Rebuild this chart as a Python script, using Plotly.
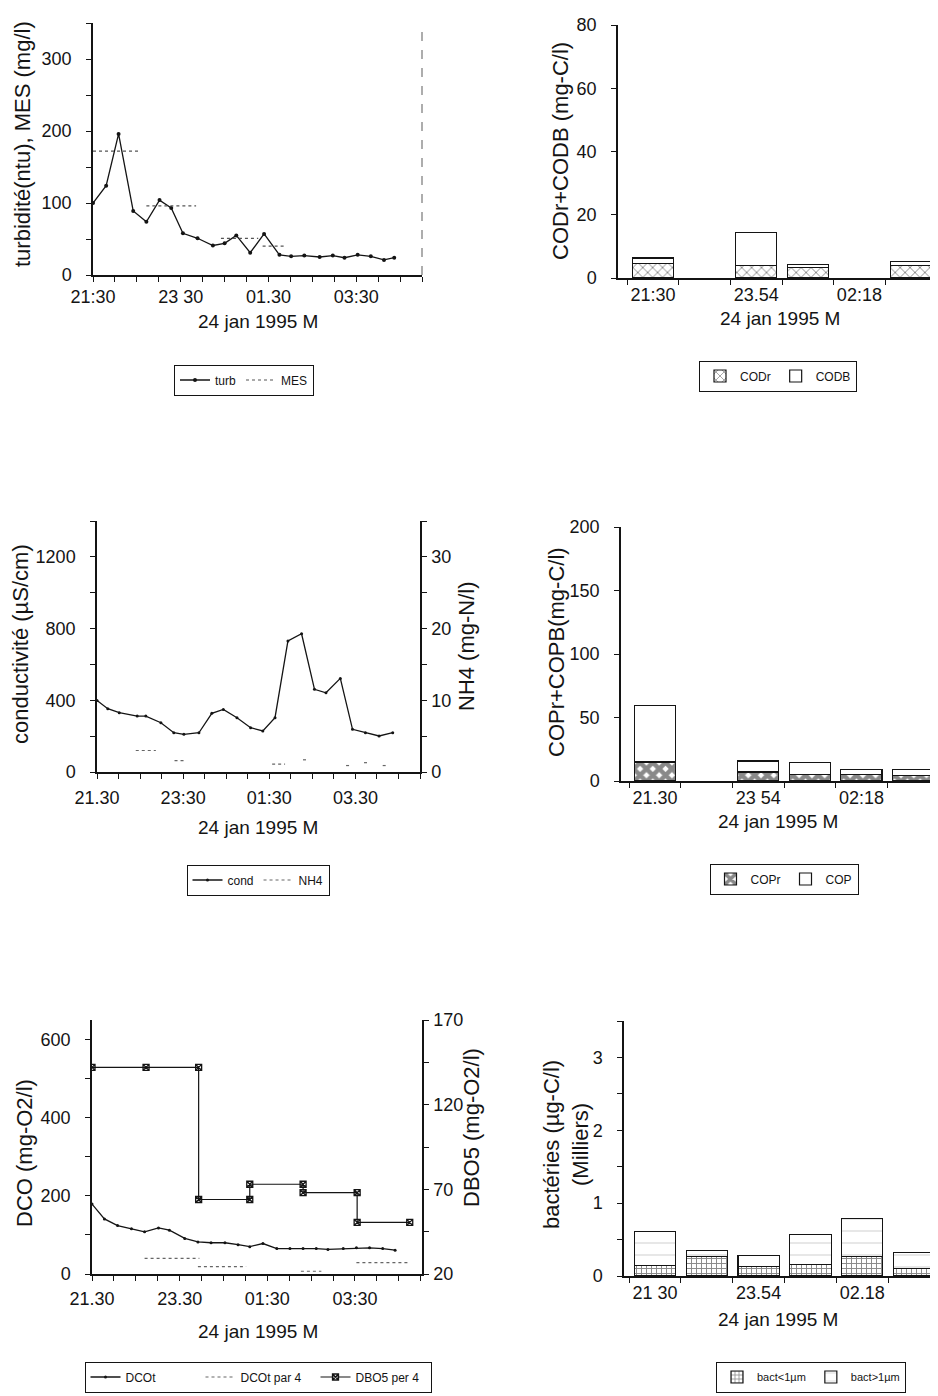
import plotly.graph_objects as go

W, H = 938, 1396
INK = "#141414"
TICKFONT = dict(family="Liberation Sans, Arial, sans-serif", size=18, color=INK)
TITLEFONT = dict(family="Liberation Sans, Arial, sans-serif", size=22, color=INK)
XTITLEFONT = dict(family="Liberation Sans, Arial, sans-serif", size=19, color=INK)
LEGFONT = dict(family="Liberation Sans, Arial, sans-serif", size=12, color=INK)

# ---------------- data ----------------
START = "21:30"
time_tick_clock = ["21:30", "23:30", "01:30", "03:30"]
p1_tick_text = ["21:30", "23 30", "01.30", "03:30"]
p3_tick_text = ["21.30", "23:30", "01:30", "03.30"]
p5_tick_text = ["21.30", "23.30", "01:30", "03:30"]

# panel 1 : turbidity / MES
turb_t = ["21:30", "21:48", "22:05", "22:25", "22:43", "23:01", "23:17", "23:33", "23:53", "00:14",
          "00:30", "00:46", "01:05", "01:24", "01:45", "02:01", "02:19", "02:40", "02:58", "03:14",
          "03:32", "03:50", "04:08", "04:22"]
turb_v = [100, 124, 196, 89, 74, 104, 93, 58, 51, 41, 44, 55, 31, 57, 28, 26, 27, 25, 27, 24, 28, 26, 21, 24]
mes_start = ["21:30", "22:43", "00:25", "01:22"]
mes_end = ["22:34", "23:51", "01:16", "01:52"]
mes_v = [172, 96, 51, 40]

# panel 3 : conductivity / NH4
cond_t = ["21:30", "21:45", "22:01", "22:26", "22:38", "22:59", "23:17", "23:31", "23:52", "00:10",
          "00:26", "00:45", "01:04", "01:21", "01:38", "01:56", "02:15", "02:33", "02:49", "03:09",
          "03:26", "03:44", "04:03", "04:22"]
cond_v = [399, 353, 331, 312, 312, 275, 219, 210, 219, 327, 349, 303, 247, 229, 303, 731, 771, 461,
          442, 522, 238, 219, 201, 219]
nh4_start = ["22:24", "23:18", "01:34", "02:17", "03:17", "03:42", "04:08"]
nh4_end = ["22:52", "23:32", "01:52", "02:24", "03:22", "03:48", "04:14"]
nh4_v = [3.0, 1.6, 1.1, 1.7, 0.9, 1.3, 0.9]

# panel 5 : DCO / DBO5
dco_t = ["21:30", "21:47", "22:05", "22:24", "22:42", "23:01", "23:16", "23:37", "23:55", "00:13",
         "00:32", "00:50", "01:06", "01:24", "01:43", "02:01", "02:19", "02:37", "02:53", "03:14",
         "03:32", "03:50", "04:08", "04:25"]
dco_v = [179, 141, 124, 116, 108, 118, 112, 91, 82, 80, 80, 75, 70, 78, 65, 65, 65, 65, 63, 65, 67, 67, 65, 61]
dco4_start = ["22:42", "23:55", "02:16", "03:32"]
dco4_end = ["23:57", "01:01", "02:44", "04:45"]
dco4_v = [40, 19, 7, 29]
dbo_t = ["21:30", "22:44", "23:56", "23:56", "01:06", "01:06", "02:19", "02:19", "03:33", "03:33", "04:45"]
dbo_v = [142, 142, 142, 64, 64, 73, 73, 68, 68, 50.5, 50.5]

# bar panels : six samples
samples = [0, 1, 2, 3, 4, 5]
bar_tick_pos = [0, 2, 4]
p2_tick_text = ["21:30", "23.54", "02:18"]
p4_tick_text = ["21.30", "23 54", "02:18"]
p6_tick_text = ["21 30", "23.54", "02.18"]
codr = [4.5, None, 3.9, 3.3, None, 4.0]
codb = [1.8, None, 10.5, 0.9, None, 1.2]
copr = [15.0, None, 7.1, 5.2, 5.2, 4.4]
cop = [44.5, None, 8.6, 9.2, 3.9, 4.7]
bact_lt1 = [0.14, 0.27, 0.13, 0.16, 0.27, 0.10]
bact_gt1 = [0.47, 0.08, 0.15, 0.41, 0.52, 0.22]


def hrs(c):
    h, m = map(int, c.split(":"))
    h0, m0 = map(int, START.split(":"))
    v = h + m / 60 - (h0 + m0 / 60)
    return v + 24 if v < 0 else v


def segs(starts, ends, vals):
    xs, ys = [], []
    for s, e, v in zip(starts, ends, vals):
        xs += [hrs(s), hrs(e), None]
        ys += [v, v, None]
    return xs, ys


def xd(a, b):
    return [a / W, b / W]


def yd(top, bottom):
    return [1 - bottom / H, 1 - top / H]


fig = go.Figure()

# ---- panel 1
fig.add_trace(go.Scatter(x=[hrs(t) for t in turb_t], y=turb_v, name="turb", mode="lines+markers",
                         line=dict(color=INK, width=1.3), marker=dict(size=4, color=INK),
                         xaxis="x", yaxis="y", legend="legend"))
mx, my = segs(mes_start, mes_end, mes_v)
fig.add_trace(go.Scatter(x=mx, y=my, name="MES", mode="lines", line=dict(color="#555", width=1.2, dash="dot"),
                         xaxis="x", yaxis="y", legend="legend"))

# ---- panel 2
fig.add_trace(go.Bar(x=samples, y=codr, name="CODr", width=0.8, xaxis="x2", yaxis="y2", legend="legend2",
                     marker=dict(color="white", line=dict(color=INK, width=1.2),
                                 pattern=dict(shape="x", size=7, solidity=0.25, fgcolor=INK, bgcolor="white"))))
fig.add_trace(go.Bar(x=samples, y=codb, name="CODB", width=0.8, xaxis="x2", yaxis="y2", legend="legend2",
                     marker=dict(color="white", line=dict(color=INK, width=1.2))))

# ---- panel 3
fig.add_trace(go.Scatter(x=[hrs(t) for t in cond_t], y=cond_v, name="cond", mode="lines+markers",
                         line=dict(color=INK, width=1.3), marker=dict(size=3, color=INK),
                         xaxis="x3", yaxis="y3", legend="legend3"))
nx, ny = segs(nh4_start, nh4_end, nh4_v)
fig.add_trace(go.Scatter(x=nx, y=ny, name="NH4", mode="lines", line=dict(color="#666", width=1.2, dash="dot"),
                         xaxis="x3", yaxis="y4", legend="legend3"))

# ---- panel 4
fig.add_trace(go.Bar(x=samples, y=copr, name="COPr", width=0.8, xaxis="x4", yaxis="y5", legend="legend4",
                     marker=dict(color="white", line=dict(color=INK, width=1.2),
                                 pattern=dict(shape="x", size=9, solidity=0.75, fgcolor=INK, bgcolor="white"))))
fig.add_trace(go.Bar(x=samples, y=cop, name="COP", width=0.8, xaxis="x4", yaxis="y5", legend="legend4",
                     marker=dict(color="white", line=dict(color=INK, width=1.2))))

# ---- panel 5
fig.add_trace(go.Scatter(x=[hrs(t) for t in dco_t], y=dco_v, name="DCOt", mode="lines+markers",
                         line=dict(color=INK, width=1.3), marker=dict(size=3, color=INK),
                         xaxis="x5", yaxis="y6", legend="legend5"))
dx, dy = segs(dco4_start, dco4_end, dco4_v)
fig.add_trace(go.Scatter(x=dx, y=dy, name="DCOt par 4", mode="lines", line=dict(color="#666", width=1.2, dash="dot"),
                         xaxis="x5", yaxis="y6", legend="legend5"))
fig.add_trace(go.Scatter(x=[hrs(t) for t in dbo_t], y=dbo_v, name="DBO5 per 4", mode="lines+markers",
                         line=dict(color=INK, width=1.2),
                         marker=dict(size=6, symbol="square-x-open", color=INK, line=dict(width=1.3)),
                         xaxis="x5", yaxis="y7", legend="legend5"))

# ---- panel 6
fig.add_trace(go.Bar(x=samples, y=bact_lt1, name="bact&lt;1µm", width=0.8, xaxis="x6", yaxis="y8", legend="legend6",
                     marker=dict(color="white", line=dict(color=INK, width=1.2),
                                 pattern=dict(shape="+", size=5, solidity=0.35, fgcolor=INK, bgcolor="white"))))
fig.add_trace(go.Bar(x=samples, y=bact_gt1, name="bact&gt;1µm", width=0.8, xaxis="x6", yaxis="y8", legend="legend6",
                     marker=dict(color="white", line=dict(color=INK, width=1.2),
                                 pattern=dict(shape="-", size=12, solidity=0.06, fgcolor="#777", bgcolor="white"))))

# ---------------- axes ----------------
base = dict(showgrid=False, zeroline=False, showline=True, linecolor=INK, linewidth=1.5, automargin=False,
            ticks="outside", ticklen=5, tickcolor=INK, tickwidth=1.2, tickfont=TICKFONT)


def time_x(dom, anchor, rng, text, standoff):
    return dict(base, domain=dom, anchor=anchor, range=rng, tickmode="array",
                tickvals=[hrs(c) for c in time_tick_clock], ticktext=text, ticklabelstandoff=standoff,
                minor=dict(dtick=0.5, tick0=0, ticks="outside", ticklen=5, tickcolor=INK, tickwidth=1.2))


def bar_x(dom, anchor, rng, text):
    return dict(base, domain=dom, anchor=anchor, range=rng, tickmode="array", tickvals=bar_tick_pos,
                ticktext=text, ticks="", ticklabelstandoff=0,
                minor=dict(tickmode="array", tickvals=[s + 0.5 for s in samples] + [-0.5],
                           ticks="outside", ticklen=5, tickcolor=INK, tickwidth=1.2))


def val_y(dom, anchor, rng, dtick, minor=None, side="left", overlay=None):
    d = dict(base, domain=dom, anchor=anchor, range=rng, dtick=dtick, tick0=0, side=side,
             ticklabelstandoff=11 if side == "left" else 1)
    if minor:
        d["minor"] = dict(dtick=minor, tick0=0, ticks="outside", ticklen=5, tickcolor=INK, tickwidth=1.2)
    if overlay:
        d["overlaying"] = overlay
        d.pop("domain")
    return d


fig.update_layout(
    xaxis=time_x(xd(85, 414), "y", [0, 7.5], p1_tick_text, 0),
    yaxis=val_y(yd(15, 267), "x", [0, 350], 100, 50),
    xaxis2=bar_x(xd(610, 937), "y2", [-0.68, 5.66], p2_tick_text),
    yaxis2=val_y(yd(17, 270), "x2", [0, 80], 20),
    xaxis3=time_x(xd(89, 412), "y3", [0, 7.5], p3_tick_text, 4),
    yaxis3=val_y(yd(513, 764), "x3", [0, 1400], 400, 200),
    yaxis4=val_y(None, "x3", [0, 35], 10, 5, side="right", overlay="y3"),
    xaxis4=bar_x(xd(613, 937), "y5", [-0.66, 5.62], p4_tick_text),
    yaxis5=val_y(yd(519, 773), "x4", [0, 200], 50),
    xaxis5=time_x(xd(84, 414), "y6", [0, 7.53], p5_tick_text, 3),
    yaxis6=val_y(yd(1012, 1266), "x5", [0, 650], 200, 100),
    yaxis7=val_y(None, "x5", [20, 170], 50, 25, side="right", overlay="y6"),
    xaxis6=bar_x(xd(616, 937), "y8", [-0.6, 5.6], p6_tick_text),
    yaxis8=val_y(yd(1013, 1268), "x6", [0, 3.5], 1, 0.5),
)
fig.layout.yaxis7.tick0 = 20
fig.layout.yaxis7.minor.tick0 = 20

# right border of panel 1
fig.add_shape(type="line", xref="x domain", yref="y domain", x0=1, x1=1, y0=0, y1=1,
              line=dict(color="#777", width=1.2, dash="dash"))

# ---------------- titles ----------------
def ann(text, x, y, font, angle=0):
    fig.add_annotation(text=text, x=x / W, y=1 - y / H, xref="paper", yref="paper", showarrow=False,
                       xanchor="center", yanchor="middle", textangle=angle, font=font)


ann("turbidité(ntu), MES (mg/l)", 14, 136, TITLEFONT, -90)
ann("CODr+CODB (mg-C/l)", 553, 143, TITLEFONT, -90)
ann("conductivité (µS/cm)", 12, 636, TITLEFONT, -90)
ann("NH4 (mg-N/l)", 458, 638, TITLEFONT, -90)
ann("COPr+COPB(mg-C/l)", 548, 644, TITLEFONT, -90)
ann("DCO (mg-O2/l)", 16, 1145, TITLEFONT, -90)
ann("DBO5 (mg-O2/l)", 463, 1120, TITLEFONT, -90)
ann("bactéries (µg-C/l)<br>(Milliers)", 558, 1137, TITLEFONT, -90)
for (x, y) in [(250, 313), (772, 311), (250, 819), (770, 813), (250, 1323), (770, 1311)]:
    ann("24 jan 1995 M", x, y, XTITLEFONT)

# ---------------- legends ----------------
def leg(x, y, **kw):
    d = dict(x=x / W, y=1 - y / H, xanchor="center", yanchor="middle", orientation="h",
             bordercolor=INK, borderwidth=1, bgcolor="white", font=LEGFONT, itemwidth=30,
             traceorder="normal")
    d.update(kw)
    return d


fig.update_layout(
    legend=leg(236, 372),
    legend2=leg(770, 368),
    legend3=leg(250, 872),
    legend4=leg(776, 871),
    legend5=leg(250, 1369, entrywidth=70),
    legend6=leg(803, 1369, font=dict(LEGFONT, size=11)),
    barmode="stack",
    width=W, height=H, margin=dict(l=0, r=0, t=0, b=0),
    paper_bgcolor="white", plot_bgcolor="white",
    font=dict(family="Liberation Sans, Arial, sans-serif", color=INK),
)

fig.write_html("out.html")
